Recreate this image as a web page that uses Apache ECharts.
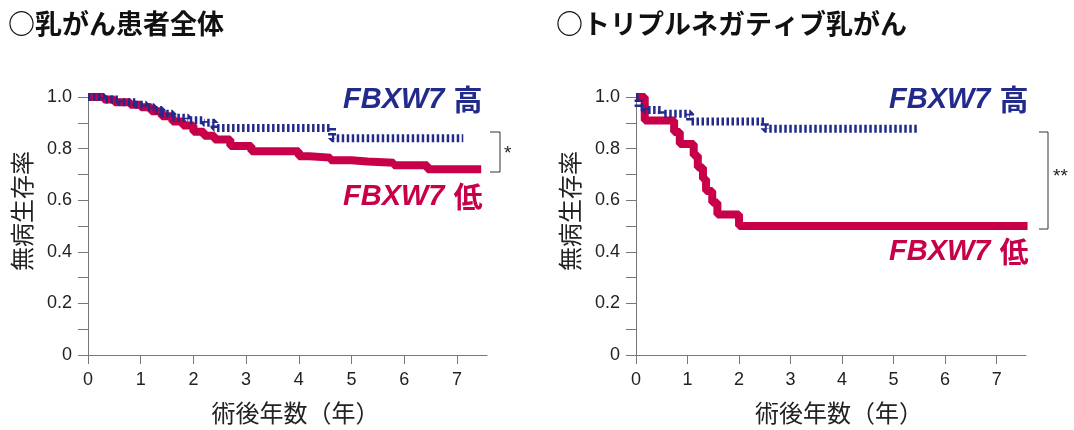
<!DOCTYPE html>
<html>
<head>
<meta charset="utf-8">
<script src="https://cdn.jsdelivr.net/npm/echarts@6/dist/echarts.min.js"></script>
<style>
body { margin: 0; background: #fff; }
#main { width: 1074px; height: 430px; }
</style>
</head>
<body>
<div id="main"></div>
<script>
// 年 (x) tick labels
var yearTicks = [0, 1, 2, 3, 4, 5, 6, 7];

// 乳がん患者全体
var allHighTime = [0, 0.3, 0.6, 0.9, 1.1, 1.25, 1.4, 1.6, 1.9, 2.2, 2.4, 4.63, 7.12];
var allHighSurv = [1.0, 0.99, 0.98, 0.97, 0.96, 0.95, 0.935, 0.92, 0.91, 0.90, 0.88, 0.84, 0.84];
var allLowTime = [0, 0.3, 0.5, 0.8, 1.0, 1.2, 1.4, 1.6, 1.8, 2.0, 2.2, 2.4, 2.7, 3.1, 4.0, 4.2, 4.6, 5.0, 5.3, 5.8, 6.44, 7.46];
var allLowSurv = [1.0, 0.99, 0.98, 0.97, 0.96, 0.945, 0.925, 0.905, 0.89, 0.865, 0.85, 0.835, 0.81, 0.79, 0.77, 0.765, 0.755, 0.75, 0.745, 0.735, 0.72, 0.72];

// トリプルネガティブ乳がん
var tnbcHighTime = [0, 0.05, 0.17, 0.5, 1.05, 2.5, 5.48];
var tnbcHighSurv = [1.0, 0.96, 0.95, 0.935, 0.905, 0.877, 0.877];
var tnbcLowTime = [0, 0.17, 0.74, 0.85, 1.12, 1.2, 1.3, 1.36, 1.48, 1.58, 2.0, 7.6];
var tnbcLowSurv = [1.0, 0.909, 0.864, 0.818, 0.773, 0.727, 0.682, 0.636, 0.591, 0.545, 0.5, 0.5];

var BLUE = '#222b8c';
var RED = '#c8004a';
var JP = '"Noto Sans CJK JP", sans-serif';
var NUM = '"Liberation Sans", Arial, sans-serif';

function pairs(t, s) {
    var out = [];
    for (var i = 0; i < t.length; i++) out.push([t[i], s[i]]);
    return out;
}

function makeX(idx, max) {
    return {
        type: 'value', gridIndex: idx, min: 0, max: max, interval: 1,
        name: '術後年数（年）', nameLocation: 'middle', nameGap: 46,
        nameTextStyle: { fontFamily: JP, fontSize: 24, color: '#222', padding: [0, 0, 0, 16] },
        axisLine: { lineStyle: { color: '#777', width: 1 } },
        axisTick: { length: 9, customValues: yearTicks, lineStyle: { color: '#777' } },
        axisLabel: { customValues: yearTicks, margin: 16, fontFamily: NUM, fontSize: 18, color: '#222' },
        splitLine: { show: false }
    };
}

function makeY(idx) {
    return {
        type: 'value', gridIndex: idx, min: 0, max: 1, interval: 0.2,
        name: '無病生存率', nameLocation: 'middle', nameGap: 54, nameRotate: 90,
        nameTextStyle: { fontFamily: JP, fontSize: 24, color: '#222', padding: [0, 0, 0, 30] },
        axisLine: { show: true, lineStyle: { color: '#777', width: 1 } },
        axisTick: { show: true, length: 10, lineStyle: { color: '#777' } },
        minorTick: { show: true, splitNumber: 2, length: 10, lineStyle: { color: '#777' } },
        axisLabel: {
            margin: 16, fontFamily: NUM, fontSize: 18, color: '#222',
            formatter: function (v) { return v === 0 ? '0' : v.toFixed(1); }
        },
        splitLine: { show: false }
    };
}

function lowLine(idx, t, s) {
    return {
        type: 'line', step: 'end', xAxisIndex: idx, yAxisIndex: idx,
        data: pairs(t, s), symbol: 'none', silent: true,
        lineStyle: { color: RED, width: 8 }
    };
}

function highLine(idx, t, s) {
    return {
        type: 'line', step: 'end', xAxisIndex: idx, yAxisIndex: idx,
        data: pairs(t, s), symbol: 'none', silent: true,
        lineStyle: { color: BLUE, width: 8, type: [2.5, 2.5] }
    };
}

function label(x, y, word, color) {
    return {
        type: 'text', left: x, top: y,
        style: {
            text: '{g|FBXW7}{k|' + word + '}',
            rich: {
                g: { fontFamily: NUM, fontSize: 29, fontWeight: 'bold', fontStyle: 'italic', fill: color },
                k: { fontFamily: JP, fontSize: 29, fontWeight: 'bold', fill: color, padding: [0, 0, 0, 9] }
            }
        }
    };
}

function bracket(x, y1, y2, w) {
    return {
        type: 'polyline',
        shape: { points: [[x - w, y1], [x, y1], [x, y2], [x - w, y2]] },
        style: { stroke: '#333', lineWidth: 1, fill: null }
    };
}

var chart = echarts.init(document.getElementById('main'));
chart.setOption({
    animation: false,
    grid: [
        { left: 88, top: 97, width: 399, height: 261 },
        { left: 636, top: 97, width: 390, height: 261 }
    ],
    xAxis: [makeX(0, 7.57), makeX(1, 7.57)],
    yAxis: [makeY(0), makeY(1)],
    series: [
        lowLine(0, allLowTime, allLowSurv),
        highLine(0, allHighTime, allHighSurv),
        lowLine(1, tnbcLowTime, tnbcLowSurv),
        highLine(1, tnbcHighTime, tnbcHighSurv)
    ],
    graphic: [
        { type: 'text', left: 8, top: 10, style: { text: '○乳がん患者全体', fontFamily: JP, fontSize: 27, fontWeight: 'bold', fill: '#111' } },
        { type: 'text', left: 556, top: 10, style: { text: '○トリプルネガティブ乳がん', fontFamily: JP, fontSize: 27, fontWeight: 'bold', fill: '#111' } },
        label(343, 85, '高', BLUE),
        label(343, 182, '低', RED),
        label(889, 85, '高', BLUE),
        label(889, 237, '低', RED),
        bracket(500, 132, 172, 10),
        { type: 'text', left: 504, top: 144, style: { text: '*', fontFamily: NUM, fontSize: 19, fill: '#222' } },
        bracket(1048, 132, 229, 9),
        { type: 'text', left: 1053, top: 167, style: { text: '**', fontFamily: NUM, fontSize: 19, fill: '#222' } }
    ]
});
</script>
</body>
</html>
